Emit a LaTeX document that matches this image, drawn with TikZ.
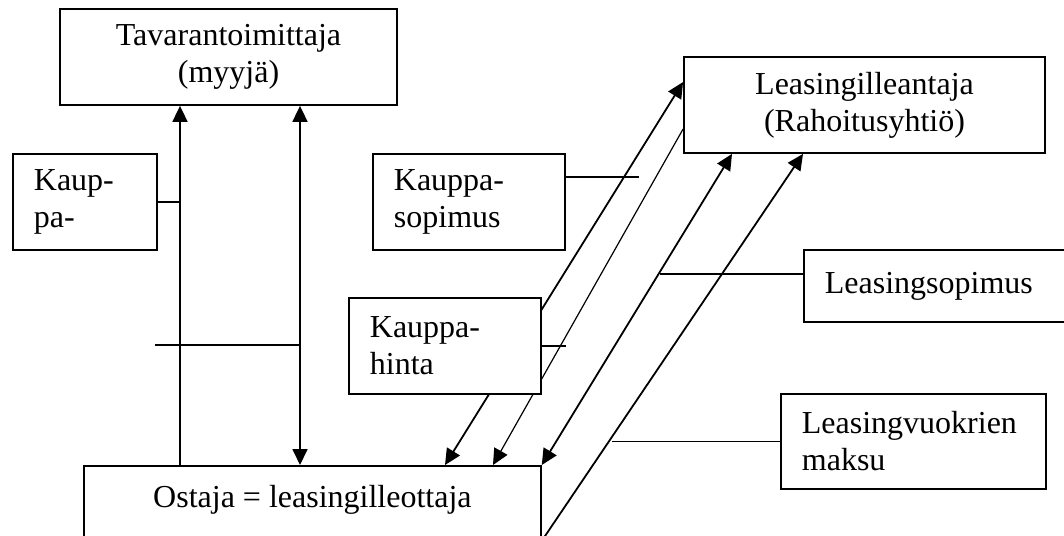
\documentclass[tikz,border=0pt]{standalone}
\usepackage{fontspec}
\setmainfont{Liberation Serif}
\usetikzlibrary{arrows.meta}

\begin{document}
\begin{tikzpicture}[auto, x=0.5pt, y=-0.5pt, line width=0.9pt,
>={Triangle[length=8pt,width=7.5pt]},
font=\fontsize{16pt}{18.5pt}\selectfont,
block/.style = {rectangle, draw=black, fill=white, align=center, minimum width=#1},
lblock/.style = {rectangle, draw=black, fill=white, align=left, inner xsep=10.5pt, text width=#1, anchor=north west}]

\useasboundingbox (0,0) rectangle (1064,535);
\clip (0,0) rectangle (1064,535);

\node[block=168.5pt, minimum height=48pt] (myyja) at (228.5,57) {Tavarantoimittaja\\(myyjä)};
\node[block=180.5pt, minimum height=48pt] (antaja) at (864.5,105) {Leasingilleantaja\\(Rahoitusyhtiö)};
\node[block=228.5pt, inner sep=0pt, text height=21pt, text depth=16pt, anchor=north west] (ottaja) at (83,465) {Ostaja = leasingilleottaja};

\node[lblock=51pt, minimum height=48pt] (kaup) at (12,153) {Kaup-\\pa-};
\node[lblock=75pt, minimum height=48pt] (ksop) at (372,153) {Kauppa-\\sopimus};
\node[lblock=129pt, minimum height=36pt] (lsop) at (803,249) {Leasingsopimus};
\node[lblock=111.5pt, minimum height=47.5pt] (lvuok) at (780,393) {Leasingvuokrien\\maksu};

\coordinate (h) at (155,345);

\draw [->] (180,0 |- ottaja.north) -- (180,0 |- myyja.south);
\draw [<->] (300,0 |- ottaja.north) -- (300,0 |- myyja.south);
\draw (kaup.east) -- (180,0 |- kaup.east);
\draw (h) -- (300,0 |- h);

\draw [<->] (445,0 |- ottaja.north) -- (antaja.west |- 0,82);
\draw [->, line width=0.6pt] (antaja.west |- 0,129) -- (493,0 |- ottaja.north);
\draw [<->] (ottaja.north east) -- (732,0 |- antaja.south);
\draw [->] (ottaja.south east) -- (803,0 |- antaja.south);

\draw ([yshift=-12pt]ksop.north east) -- ++(73,0);
\draw ([yshift=6pt]lsop.west) -- ++(-143,0);
\draw (lvuok.west) -- ++(-168,0);

\node[lblock=75pt, minimum height=48pt] (khinta) at (348,297) {Kauppa-\\hinta};
\draw (khinta.east) -- ++(24,0);
\end{tikzpicture}
\end{document}
